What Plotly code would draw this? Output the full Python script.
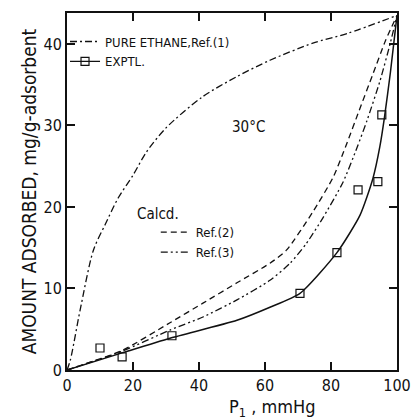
import plotly.graph_objects as go

# Pure ethane isotherm, Ref.(1)
eth_x = [0, 1, 4, 8, 11.5, 15.5, 20, 24, 30, 41, 51.5, 61.5, 74.5, 85, 100]
eth_y = [0, 1.2, 7.4, 14.7, 17.8, 21.1, 23.9, 26.7, 29.7, 33.5, 36, 38, 40.1, 41.3, 43.5]

# Experimental points
exp_x = [10, 16.7, 31.8, 70.6, 81.8, 88.2, 94.2, 95.4]
exp_y = [2.7, 1.6, 4.2, 9.4, 14.4, 22.1, 23.1, 31.3]

# Curve through experimental data (solid)
fit_x = [0, 16.7, 31.2, 51.5, 61.5, 70.6, 81.8, 88.8, 92.7, 94.8, 96.2, 98, 100]
fit_y = [0, 2.1, 3.9, 6.1, 7.7, 9.4, 14.4, 19, 23.5, 27.4, 31, 36.5, 43.5]

# Calculated, Ref.(2) (dashed)
r2_x = [0, 16.7, 31.2, 41.2, 51.5, 61.5, 66.5, 74.5, 80.6, 84.8, 88.5, 92.7, 96.5, 100]
r2_y = [0, 2.4, 5.8, 8.2, 10.7, 13.1, 14.7, 19.4, 23.6, 27.8, 31.8, 36.3, 40.4, 43.5]

# Calculated, Ref.(3) (dash-dot-dot)
r3_x = [0, 16.7, 31.2, 41.2, 51.5, 61.5, 67.6, 72.5, 77.6, 83.6, 87.9, 90.9, 94.8, 97.9, 100]
r3_y = [0, 2.3, 4.9, 6.5, 8.6, 11, 13.1, 15.5, 18.7, 23, 27.3, 30.6, 35.4, 40, 43.5]

x_ticks = [0, 20, 40, 60, 80, 100]
y_ticks = [0, 10, 20, 30, 40]

FONT = "Liberation Sans Narrow, DejaVu Sans Condensed, Arial Narrow, Liberation Sans, sans-serif"
BLACK = "#111111"

fig = go.Figure()

fig.add_trace(go.Scatter(x=eth_x, y=eth_y, mode="lines", line=dict(color=BLACK, width=1.3, dash="7px,3px,2px,3px", shape="spline", smoothing=0.8),
                         name="PURE ETHANE,Ref.(1)", legend="legend"))
fig.add_trace(go.Scatter(x=fit_x, y=fit_y, mode="lines", line=dict(color=BLACK, width=1.5, shape="spline", smoothing=0.6),
                         showlegend=False))
fig.add_trace(go.Scatter(x=exp_x, y=exp_y, mode="markers",
                         marker=dict(symbol="square-open", size=8, color=BLACK, line=dict(width=1.2)),
                         showlegend=False))
fig.add_trace(go.Scatter(x=[None], y=[None], mode="lines+markers", line=dict(color=BLACK, width=1.3),
                         marker=dict(symbol="square-open", size=8, color=BLACK, line=dict(width=1.2)),
                         name="EXPTL.", legend="legend"))
fig.add_trace(go.Scatter(x=r2_x, y=r2_y, mode="lines", line=dict(color=BLACK, width=1.3, dash="6px,4px", shape="spline", smoothing=0.6),
                         name="Ref.(2)", legend="legend2"))
fig.add_trace(go.Scatter(x=r3_x, y=r3_y, mode="lines", line=dict(color=BLACK, width=1.3, dash="7px,3px,2px,3px,2px,3px", shape="spline", smoothing=0.6),
                         name="Ref.(3)", legend="legend2"))

axis_common = dict(showgrid=False, zeroline=False, showline=True, linecolor=BLACK, linewidth=2,
                   mirror="ticks", ticks="inside", ticklen=8, tickwidth=2, tickcolor=BLACK, automargin=False,
                   tickfont=dict(family=FONT, size=16, color=BLACK))

fig.update_layout(
    width=413, height=420,
    margin=dict(l=67, r=16, t=13, b=50),
    paper_bgcolor="white", plot_bgcolor="white",
    font=dict(family=FONT, color=BLACK),
    xaxis=dict(range=[0, 100], tickvals=x_ticks, **axis_common),
    yaxis=dict(range=[0, 43.8], tickvals=y_ticks, title=dict(text="AMOUNT ADSORBED, mg/g-adsorbent", font=dict(size=19), standoff=2), **axis_common),
    legend=dict(x=-0.006, y=0.962, xanchor="left", yanchor="top", bgcolor="rgba(0,0,0,0)",
                font=dict(size=13, family=FONT), tracegroupgap=0, itemwidth=30),
    legend2=dict(x=0.269, y=0.428, xanchor="left", yanchor="top", bgcolor="rgba(0,0,0,0)",
                 font=dict(size=13, family=FONT), tracegroupgap=0, itemwidth=30),
    annotations=[
        dict(text="30°C", x=55, y=29.8, xref="x", yref="y", showarrow=False, font=dict(size=15, family=FONT)),
        dict(text="Calcd.", x=20.5, y=19.1, xref="x", yref="y", showarrow=False, xanchor="left", font=dict(size=15, family=FONT)),
        dict(text="P<sub>1</sub> , mmHg", x=0.62, y=0, xref="paper", yref="paper", xanchor="center", yanchor="top",
             yshift=-24, showarrow=False, font=dict(size=18, family=FONT)),
    ],
)

fig.write_html("out.html", config={"displayModeBar": False},
               post_script="document.body.style.margin='0';")
